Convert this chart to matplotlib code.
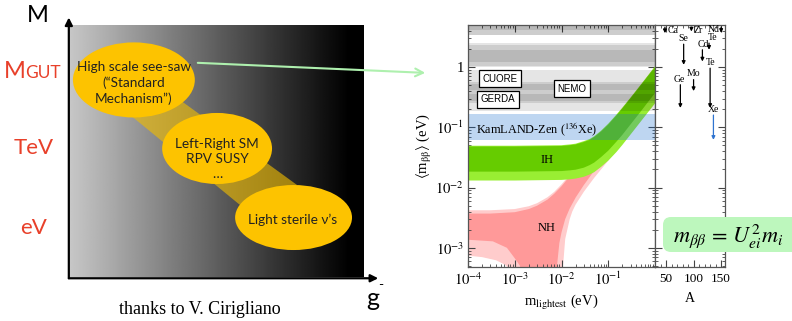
import numpy as np
import matplotlib
matplotlib.use("Agg")
import matplotlib.pyplot as plt
from matplotlib.patches import Ellipse, Polygon, FancyBboxPatch, FancyArrowPatch
from matplotlib.transforms import IdentityTransform
from matplotlib.ticker import FixedLocator, LogLocator, MultipleLocator, FuncFormatter, NullFormatter

plt.rcParams["font.family"] = ["Liberation Serif", "DejaVu Serif"]
plt.rcParams["mathtext.fontset"] = "stix"
SANS = ["Lato", "DejaVu Sans"]

# ---------------- schematic: mass scale vs coupling ----------------
scale_names = ["TeV", "eV"]
scenarios = ["High scale see-saw\n(\u201cStandard\nMechanism\u201d)",
             "Left-Right SM\nRPV SUSY\n\u2026",
             "Light sterile \u03bd\u2019s"]

# ---------------- effective Majorana mass bands (eV) ----------------
# inverted hierarchy
m_ih = [1e-4, 1e-3, 1e-2, 1.5e-2, 2e-2, 3e-2, 4e-2, 5e-2, 7e-2, 0.1, 0.15, 0.2, 0.3, 0.5, 0.7, 1.0]
ih_inner_hi = [0.048, 0.048, 0.049, 0.0505, 0.052, 0.057, 0.062, 0.069, 0.085, 0.111, 0.158, 0.206, 0.304, 0.502, 0.702, 1.0]
ih_inner_lo = [0.0184, 0.0184, 0.0188, 0.0193, 0.0198, 0.0214, 0.0236, 0.026, 0.032, 0.041, 0.058, 0.075, 0.112, 0.185, 0.26, 0.37]
ih_outer_hi = [0.0495, 0.0495, 0.0505, 0.052, 0.0535, 0.059, 0.064, 0.071, 0.088, 0.115, 0.163, 0.212, 0.312, 0.515, 0.72, 1.03]
ih_outer_lo = [0.0131, 0.0131, 0.0134, 0.0137, 0.0141, 0.0151, 0.0165, 0.018, 0.022, 0.028, 0.039, 0.051, 0.076, 0.126, 0.176, 0.25]

# normal hierarchy, upper edges
m_nh_hi = [1e-4, 3e-4, 1e-3, 2e-3, 3e-3, 5e-3, 7e-3, 1e-2, 1.5e-2, 2e-2, 3e-2, 5e-2, 0.1, 0.2, 0.5, 1.0]
nh_outer_hi = [0.0042, 0.0042, 0.0044, 0.0049, 0.0055, 0.0069, 0.0085, 0.0113, 0.0163, 0.0213, 0.0313, 0.0515, 0.102, 0.202, 0.502, 1.0]
nh_inner_hi = [0.0037, 0.0037, 0.0039, 0.0044, 0.0050, 0.0063, 0.0079, 0.0105, 0.0154, 0.0204, 0.0304, 0.0504, 0.1, 0.2, 0.5, 1.0]
# normal hierarchy, lower edges (dip to zero inside the cancellation funnel)
m_nh_inner_lo = [1e-4, 3.4e-4, 6.8e-4, 1e-3, 1.3e-3, 1.6e-3, 7.5e-3, 8e-3, 9e-3, 1e-2, 1.2e-2,
                 1.5e-2, 2e-2, 3e-2, 5e-2, 0.1, 0.2, 0.5, 1.0]
nh_inner_lo = [1.36e-3, 1.28e-3, 1.0e-3, 6.7e-4, 5e-4, 1e-6, 1e-6, 5e-4, 1.2e-3, 1.8e-3, 3.0e-3,
               4.5e-3, 6.8e-3, 0.011, 0.019, 0.038, 0.076, 0.19, 0.37]
m_nh_outer_lo = [1e-4, 2e-4, 4e-4, 6e-4, 8e-4, 1e-3, 1.2e-3, 1.0e-2, 1.08e-2, 1.2e-2, 1.5e-2,
                 1.7e-2, 2e-2, 3e-2, 5e-2, 0.1, 0.2, 0.5, 1.0]
nh_outer_lo = [7.4e-4, 7.0e-4, 6.2e-4, 5.3e-4, 4.4e-4, 3e-4, 1e-6, 1e-6, 5e-4, 1.4e-3, 3.0e-3,
               4.0e-3, 5.2e-3, 8.5e-3, 0.0145, 0.028, 0.053, 0.13, 0.25]

# KamLAND-Zen 136Xe limit range and other experimental limit ranges
kamland_zen = (0.061, 0.165)
limit_ranges = [(3.4, 6.0), (3.4, 5.5), (4.1, 6.0),
                (1.01, 2.47), (1.06, 2.35), (1.22, 1.91),
                (0.19, 0.89), (0.25, 0.57), (0.27, 0.36), (0.42, 0.52)]
experiments = ["CUORE", "GERDA", "NEMO"]
exp_pos = [(4.8e-4, 0.645), (4.4e-4, 0.29), (0.0168, 0.44)]

# limits per isotope vs mass number A
nuclei = ["Ca", "Ge", "Se", "Zr", "Mo", "Cd", "Te", "Te", "Xe", "Nd"]
mass_number = [48, 76, 82, 96, 100, 116, 128, 130, 136, 150]
limit_hi = [4.6, 0.51, 2.4, 4.6, 0.62, 1.94, 2.5, 0.96, 0.16, 4.6]
limit_lo = [3.66, 0.21, 1.09, 3.9, 0.40, 1.24, 1.94, 0.21, 0.062, 3.7]
a_ticks = [50, 100, 150]

# ---------------- figure ----------------
W, H = 792, 321
fig = plt.figure(figsize=(W / 100, H / 100), dpi=100)


def fpos(x, y):
    return x / W, 1 - y / H


def rect(x0, y0, x1, y1):
    return [x0 / W, 1 - y1 / H, (x1 - x0) / W, (y1 - y0) / H]


# ===== schematic panel =====
axd = fig.add_axes(rect(70, 25, 363, 277))
axd.set_xlim(0, 1)
axd.set_ylim(0, 1)
axd.axis("off")
grad = np.clip(0.78 - 0.82 * np.linspace(0, 1, 300), 0, 1)[None, :]
axd.imshow(grad, extent=(0, 1, 0, 1), cmap="gray", vmin=0, vmax=1, aspect="auto", zorder=0)

gold = "#fdc300"
axd.add_patch(Polygon([(0.352, 0.722), (0.775, 0.365), (0.580, 0.286), (0.205, 0.643)],
                      closed=True, fc="#f0bc00", ec="none", alpha=0.62, zorder=1))
ell_xy = [(0.218, 0.782), (0.502, 0.510), (0.763, 0.236)]
ell_wh = [(0.416, 0.298), (0.375, 0.282), (0.399, 0.258)]
txt_xy = [(0.218, 0.770), (0.502, 0.470), (0.758, 0.226)]
for (cx, cy), (w, h), (tx, ty), s in zip(ell_xy, ell_wh, txt_xy, scenarios):
    axd.add_patch(Ellipse((cx, cy), w, h, fc=gold, ec="none", zorder=2))
    axd.text(tx, ty, s, ha="center", va="center", fontsize=9.8, family=SANS,
             linespacing=1.3, color="#222", zorder=3)

arrow_kw = dict(arrowstyle="-|>", lw=1.6, color="black", mutation_scale=11, shrinkA=0, shrinkB=0)
axd.annotate("", xy=(-0.004, 1.03), xytext=(-0.004, -0.005), arrowprops=arrow_kw, annotation_clip=False)
axd.annotate("", xy=(1.052, -0.005), xytext=(-0.004, -0.005), arrowprops=arrow_kw, annotation_clip=False)

red = "#e8402a"
fig.text(*fpos(38, 15), "M", fontsize=17, family=SANS, ha="center", va="center")
fig.text(*fpos(25.5, 78.5), "M", fontsize=17, family=SANS, ha="right", va="baseline", color=red)
fig.text(*fpos(25.5, 78.5), "GUT", fontsize=12.5, family=SANS, ha="left", va="baseline", color=red)
for name, yy in zip(scale_names, [148, 228]):
    fig.text(*fpos(34, yy), name, fontsize=16, family=SANS, ha="center", va="center", color=red)
fig.text(*fpos(373, 298), "g", fontsize=18, family=SANS, ha="center", va="center")
fig.text(*fpos(381, 285), "-", fontsize=10, family=SANS, ha="center", va="center")
fig.text(*fpos(200, 310), "thanks to V. Cirigliano", fontsize=13, ha="center", va="center")

# ===== m_bb vs m_lightest =====
ax = fig.add_axes(rect(468, 25, 655, 267))
ax.set_xscale("log")
ax.set_yscale("log")
ax.set_xlim(1e-4, 1)
ax.set_ylim(4.8e-4, 5)


def band(xh, yh, xl, yl, color, z):
    ax.fill(np.r_[xh, xl[::-1]], np.r_[yh, yl[::-1]], color=color, lw=0, zorder=z)


band(np.array(m_nh_hi), np.array(nh_outer_hi), np.array(m_nh_outer_lo), np.array(nh_outer_lo), "#ffcccc", 1)
band(np.array(m_nh_hi), np.array(nh_inner_hi), np.array(m_nh_inner_lo), np.array(nh_inner_lo), "#ff9999", 1.1)
band(np.array(m_ih), np.array(ih_outer_hi), np.array(m_ih), np.array(ih_outer_lo), "#99ee33", 2)
band(np.array(m_ih), np.array(ih_inner_hi), np.array(m_ih), np.array(ih_inner_lo), "#66cc00", 2.1)

ax.axhspan(*kamland_zen, color="#176dcd", alpha=0.28, lw=0, zorder=3)
for lo, hi in limit_ranges:
    ax.axhspan(lo, hi, color="black", alpha=0.1, lw=0, zorder=4)

for name, (xx, yy) in zip(experiments, exp_pos):
    ax.text(xx, yy, name, fontsize=7, family=["Liberation Sans", "DejaVu Sans"], ha="center", va="center",
            zorder=6, bbox=dict(boxstyle="square,pad=0.35", fc="white", ec="black", lw=0.9))
ax.text(10 ** -2.54, 0.092, r"KamLAND-Zen ($^{136}$Xe)", fontsize=8.8, ha="center", va="center", zorder=6)
ax.text(4.9e-3, 0.029, "IH", fontsize=9, ha="center", va="center", zorder=6)
ax.text(4.9e-3, 0.00216, "NH", fontsize=9, ha="center", va="center", zorder=6)

sci = FuncFormatter(lambda v, p: "1" if abs(v - 1) < 1e-9 else r"$10^{%d}$" % round(np.log10(v)))
ax.xaxis.set_major_locator(FixedLocator([1e-4, 1e-3, 1e-2, 1e-1]))
ax.xaxis.set_major_formatter(sci)
ax.xaxis.set_minor_locator(LogLocator(base=10, subs=np.arange(2, 10), numticks=20))
ax.xaxis.set_minor_formatter(NullFormatter())
ax.yaxis.set_major_locator(FixedLocator([1e-3, 1e-2, 1e-1, 1]))
ax.yaxis.set_major_formatter(sci)
ax.yaxis.set_minor_locator(LogLocator(base=10, subs=np.arange(2, 10), numticks=20))
ax.yaxis.set_minor_formatter(NullFormatter())
ax.tick_params(which="both", direction="in", top=True, right=True, colors="#444", labelcolor="black",
               labelsize=10.5)
ax.tick_params(which="major", length=5, width=0.8, pad=3)
ax.tick_params(which="minor", length=2.5, width=0.6)
for sp in ax.spines.values():
    sp.set_color("#555")
    sp.set_linewidth(0.9)
    sp.set_zorder(7)
ax.set_xlabel(r"m$_{\mathrm{lightest}}$ (eV)", fontsize=10.5, labelpad=3)
ax.set_ylabel(r"$\langle$m$_{\mathrm{\beta\beta}}\rangle$ (eV)", fontsize=10.5, labelpad=1)

# ===== limits vs A =====
ax2 = fig.add_axes(rect(655, 25, 725, 267))
ax2.set_yscale("log")
ax2.set_ylim(4.8e-4, 5)
ax2.set_xlim(30, 157)
ax2.xaxis.set_major_locator(FixedLocator(a_ticks))
ax2.xaxis.set_minor_locator(MultipleLocator(10))
ax2.yaxis.set_major_locator(FixedLocator([1e-3, 1e-2, 1e-1, 1]))
ax2.yaxis.set_minor_locator(LogLocator(base=10, subs=np.arange(2, 10), numticks=20))
ax2.yaxis.set_major_formatter(NullFormatter())
ax2.yaxis.set_minor_formatter(NullFormatter())
ax2.tick_params(which="both", direction="in", top=True, right=True, colors="#444", labelcolor="black",
                labelsize=9.5, labelleft=False)
ax2.tick_params(which="major", length=5, width=0.8, pad=4)
ax2.tick_params(which="minor", length=2.5, width=0.6)
for sp in ax2.spines.values():
    sp.set_color("#555")
    sp.set_linewidth(0.9)
ax2.set_xlabel("A", fontsize=10, labelpad=5)

# label placement per isotope: (offset in points, ha, va)
label_place = [((2, -2.5), "left", "center"),    # Ca
               ((-0.8, 0.8), "center", "bottom"),  # Ge
               ((0, 0.8), "center", "bottom"),   # Se
               ((1.5, -2.5), "left", "center"),  # Zr
               ((0, 0.8), "center", "bottom"),   # Mo
               ((0.5, 0.8), "center", "bottom"), # Cd
               ((-1.2, 0.6), "left", "bottom"),  # Te 128
               ((0.5, 0.8), "center", "bottom"), # Te 130
               ((0, 0.8), "center", "bottom"),   # Xe
               ((-1.2, -1.8), "right", "center")]  # Nd
for name, a, lo, hi, (off, ha, va) in zip(nuclei, mass_number, limit_lo, limit_hi, label_place):
    col = "#2f74d0" if name == "Xe" else "black"
    ax2.annotate("", xy=(a, lo), xytext=(a, hi),
                 arrowprops=dict(arrowstyle="-|>", lw=0.9, color=col, mutation_scale=5, shrinkA=0, shrinkB=0))
    ax2.annotate(name, xy=(a, hi), xytext=off, textcoords="offset points", fontsize=7,
                 ha=ha, va=va)

# formula box
fig.add_artist(FancyBboxPatch((663, H - 252), 150, 35, boxstyle="round,pad=0,rounding_size=8",
                              fc="#bdf7bd", ec="none", transform=IdentityTransform(), zorder=8))
fig.text(*fpos(728, 236), r"$m_{\beta\beta}\,=\,U_{ei}^{2}m_{i}$", fontsize=16, ha="center", va="center",
         zorder=9)

# pointer from the see-saw scenario to the plot
fig.add_artist(FancyArrowPatch(
    (195, H - 62.7), (428, H - 73), transform=IdentityTransform(),
    arrowstyle="->", mutation_scale=14, color="#aef0ae", lw=1.5, zorder=10))

fig.savefig("out.png", dpi=100)
